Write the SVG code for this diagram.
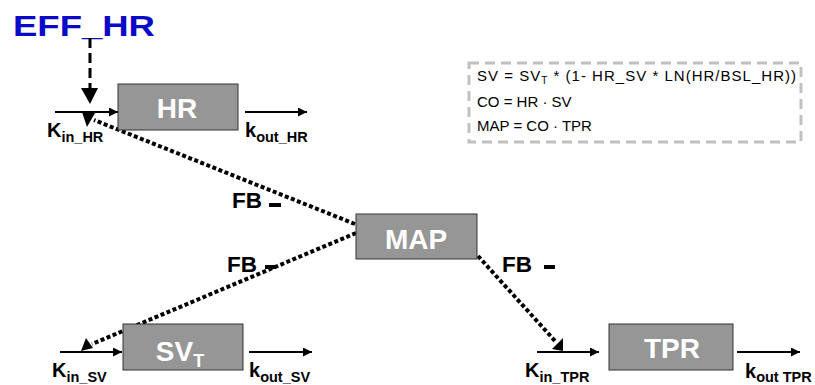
<svg xmlns="http://www.w3.org/2000/svg" width="815" height="385" viewBox="0 0 815 385">
<style>
.box{fill:#969696;stroke:#333;stroke-width:1}
.bt{font-family:"Liberation Sans",Arial,sans-serif;font-weight:bold;fill:#fff;text-anchor:middle}
.lab{font-family:"Liberation Sans",Arial,sans-serif;font-weight:bold;fill:#000;font-size:20px}
.sub{font-size:14.5px}
.arr{stroke:#000;stroke-width:2;fill:none;marker-end:url(#ah)}
.dot{stroke:#000;stroke-width:4;stroke-dasharray:4 2.5;fill:none}
.eq{font-family:"Liberation Sans",Arial,sans-serif;font-size:15px;fill:#000}
.fb{font-family:"Liberation Sans",Arial,sans-serif;font-weight:bold;font-size:22.5px;fill:#000}
</style>
<defs>
<marker id="ah" viewBox="0 0 10 10" refX="10" refY="5" markerWidth="5" markerHeight="4.5" orient="auto" markerUnits="strokeWidth">
<path d="M0,0 L10,5 L0,10 z" fill="#000"/>
</marker>
</defs>
<rect width="815" height="385" fill="#fff"/>

<g id="eff">
<text x="13" y="36" font-family="Liberation Sans,Arial,sans-serif" font-weight="bold" font-size="30" fill="#0a0ac8" textLength="142" lengthAdjust="spacingAndGlyphs">EFF_HR</text>
</g>

<g id="connectors">
<line x1="90" y1="38" x2="90" y2="88" stroke="#000" stroke-width="3" stroke-dasharray="10 5"/>
<polygon points="81,88 98,88 90,104" fill="#000"/>
<line class="arr" x1="55" y1="112" x2="118" y2="112"/>
<line class="arr" x1="245" y1="112" x2="307" y2="112"/>
<line class="arr" x1="60" y1="352" x2="122" y2="352"/>
<line class="arr" x1="249" y1="352" x2="312" y2="352"/>
<line class="arr" x1="537" y1="352" x2="599" y2="352"/>
<line class="arr" x1="737" y1="352" x2="800" y2="352"/>
<line class="dot" x1="355" y1="224" x2="94" y2="120"/>
<polygon points="82,112 95,113 87,127" fill="#000"/>
<line class="dot" x1="356" y1="233" x2="92" y2="344"/>
<polygon points="86,338 81,351 93,348" fill="#000"/>
<line class="dot" x1="478" y1="256" x2="556" y2="342"/>
<polygon points="563,338 552,349 563,351" fill="#000"/>
</g>

<g id="hr">
<rect class="box" x="118" y="84" width="120" height="46"/>
<text class="bt" x="177" y="118" font-size="28">HR</text>
</g>
<g id="map">
<rect class="box" x="356" y="214" width="121" height="45"/>
<text class="bt" x="416" y="249" font-size="28">MAP</text>
</g>
<g id="sv">
<rect class="box" x="123" y="324" width="120" height="46"/>
<text class="bt" x="180" y="361" font-size="28">SV<tspan font-size="18" dy="6">T</tspan></text>
</g>
<g id="tpr">
<rect class="box" x="609" y="324" width="124" height="46"/>
<text class="bt" x="672" y="358" font-size="28">TPR</text>
</g>

<g id="labels">
<text class="lab" x="47" y="137">K<tspan class="sub" dy="5">in_HR</tspan></text>
<text class="lab" x="245" y="137">k<tspan class="sub" dy="5">out_HR</tspan></text>
<text class="lab" x="52" y="377">K<tspan class="sub" dy="5">in_SV</tspan></text>
<text class="lab" x="249" y="377">k<tspan class="sub" dy="5">out_SV</tspan></text>
<text class="lab" x="525" y="377">K<tspan class="sub" dy="5">in_TPR</tspan></text>
<text class="lab" x="745" y="378">k<tspan class="sub" dy="4">out TPR</tspan></text>
<text class="fb" x="232" y="208">FB</text>
<rect x="269" y="203" width="12" height="4" fill="#000"/>
<text class="fb" x="227" y="272">FB</text>
<rect x="265" y="265" width="11" height="4" fill="#000"/>
<text class="fb" x="502" y="272">FB</text>
<rect x="544" y="265" width="11" height="4" fill="#000"/>
</g>

<g id="equations">
<rect x="469" y="63" width="332" height="79" fill="none" stroke="#c0c0c0" stroke-width="3" stroke-dasharray="10 6"/>
<text class="eq" x="477" y="81" textLength="319" lengthAdjust="spacing">SV = SV<tspan font-size="10" dy="3">T</tspan><tspan dy="-3"> * (1- HR_SV * LN(HR/BSL_HR))</tspan></text>
<text class="eq" x="477" y="107">CO = HR · SV</text>
<text class="eq" x="477" y="131">MAP = CO · TPR</text>
</g>
</svg>
